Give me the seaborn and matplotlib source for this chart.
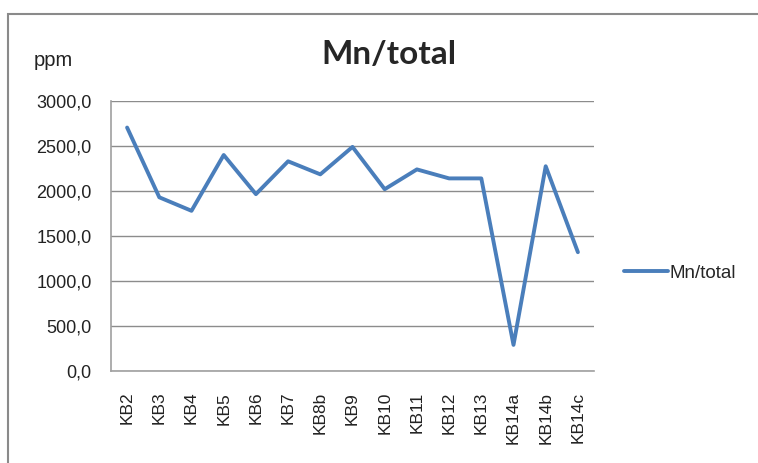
import numpy as np
import pandas as pd
import matplotlib
matplotlib.use("Agg")
import matplotlib.pyplot as plt
from matplotlib.patches import Rectangle
from matplotlib.ticker import FuncFormatter, FixedLocator
import seaborn as sns

# Data
samples = ["KB2", "KB3", "KB4", "KB5", "KB6", "KB7", "KB8b", "KB9",
           "KB10", "KB11", "KB12", "KB13", "KB14a", "KB14b", "KB14c"]
mn_total = [2705, 1930, 1780, 2400, 1965, 2330, 2185, 2490,
            2020, 2240, 2140, 2140, 290, 2275, 1320]
y_ticks = [0, 500, 1000, 1500, 2000, 2500, 3000]

df = pd.DataFrame({"sample": samples, "value": mn_total})
df["pos"] = np.arange(len(samples))

sns.set_style("white")
plt.rcParams["font.family"] = ["Liberation Sans", "DejaVu Sans"]

fig = plt.figure(figsize=(7.58, 4.63), dpi=100)
ax = fig.add_axes([111 / 758, 1 - 371 / 463, 483 / 758, 270 / 463])

sns.lineplot(data=df, x="pos", y="value", ax=ax, color="#4a7ebb",
             linewidth=2.8, label="Mn/total", legend=False)

ax.set_xlim(-0.5, len(samples) - 0.5)
ax.set_ylim(0, 3000)
ax.set_yticks(y_ticks)
ax.yaxis.set_major_formatter(FuncFormatter(lambda v, p: f"{v:.1f}".replace(".", ",")))
ax.set_xticks(df["pos"])
ax.set_xticklabels(samples, rotation=90)
ax.xaxis.set_minor_locator(FixedLocator(np.arange(-0.5, len(samples), 1.0)))
ax.tick_params(axis="x", which="major", length=0, pad=15, labelsize=12.5,
               labelcolor="#222222")
ax.tick_params(axis="x", which="minor", length=5, color="#a0a0a0", width=1)
ax.tick_params(axis="y", length=6, color="#a0a0a0", width=1, labelsize=13,
               pad=8, labelcolor="#222222")
ax.set_xlabel("")
ax.set_ylabel("")

ax.grid(axis="y", color="#8c8c8c", linewidth=1)
ax.set_axisbelow(True)
for side in ["top", "right"]:
    ax.spines[side].set_visible(False)
for side in ["left", "bottom"]:
    ax.spines[side].set_color("#a0a0a0")
    ax.spines[side].set_linewidth(1.2)

fig.text(389 / 758, 1 - 64 / 463, "Mn/total", ha="center", va="baseline",
         fontsize=24, fontweight="bold", family=["Lato", "DejaVu Sans"])
fig.text(34 / 758, 1 - 66 / 463, "ppm", ha="left", va="baseline",
         fontsize=14.5, color="#222222")

fig.legend(loc="center left", bbox_to_anchor=(624 / 758, 1 - 273 / 463),
           frameon=False, fontsize=13.5, handlelength=2.35, handletextpad=0.1,
           borderpad=0, borderaxespad=0)

# outer chart border
fig.patches.append(Rectangle((8 / 758, -0.1), 1.2, 1 - 14 / 463 + 0.1,
                             transform=fig.transFigure, fill=False,
                             edgecolor="#8a8a8a", linewidth=1.5))

fig.savefig("out.png", dpi=100)
